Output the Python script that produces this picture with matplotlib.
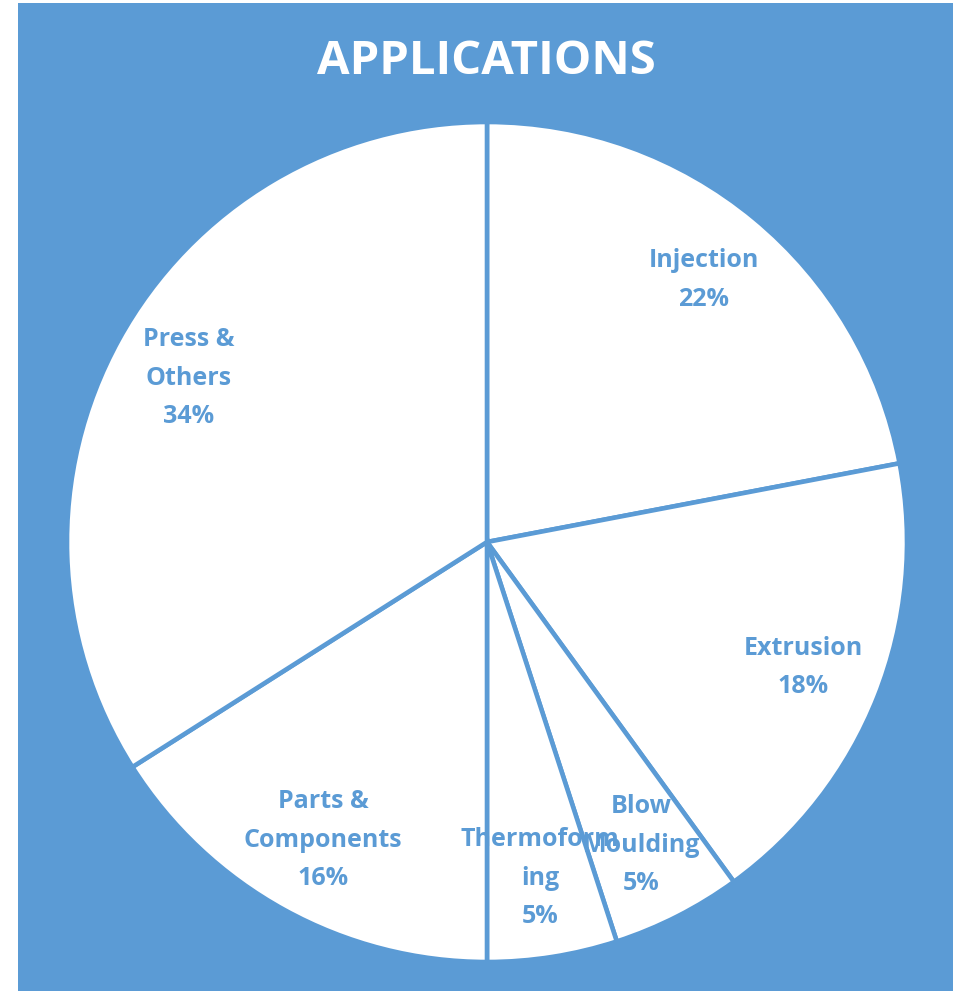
import matplotlib.pyplot as plt
from matplotlib.patches import Rectangle

BLUE = "#5B9BD5"

labels = ["Injection", "Extrusion", "Blow\nMoulding", "Thermoform\ning",
          "Parts &\nComponents", "Press &\nOthers"]
shares = [22, 18, 5, 5, 16, 34]

plt.rcParams["font.family"] = ["Open Sans", "DejaVu Sans"]

fig = plt.figure(figsize=(9.57, 9.91), dpi=100)
fig.patch.set_facecolor("white")

# blue panel behind everything
fig.patches.append(Rectangle((18 / 957, 0), 935 / 957, 988 / 991,
                             transform=fig.transFigure, facecolor=BLUE,
                             edgecolor="none", zorder=-10))

ax = fig.add_axes([67 / 957, 29 / 991, 840 / 957, 840 / 991])
ax.set_facecolor("none")
ax.set_zorder(5)

text_labels = [f"{l}\n{v}%" for l, v in zip(labels, shares)]
wedges, texts = ax.pie(
    shares, labels=text_labels, startangle=90, counterclock=False,
    colors=["white"] * len(shares), labeldistance=0.81,
    wedgeprops=dict(edgecolor=BLUE, linewidth=3.3),
    textprops=dict(color=BLUE, fontsize=18, fontweight="bold"),
)
for t in texts:
    t.set_ha("center")
    t.set_va("center")
    t.set_multialignment("center")
    t.set_linespacing(1.7)

ax.set_xlim(-1, 1)
ax.set_ylim(-1, 1)
ax.set_aspect("equal")
ax.axis("off")

fig.text(0.508, 1 - 61 / 991, "APPLICATIONS", color="white", fontsize=34,
         fontweight="bold", ha="center", va="center", zorder=10)

fig.savefig("out.png", dpi=100)
